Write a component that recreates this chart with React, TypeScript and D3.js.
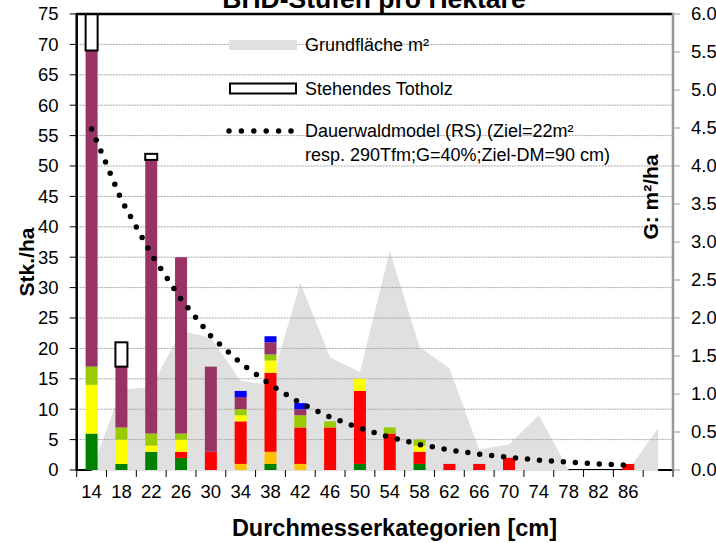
import React from "react";
import * as d3 from "d3";

// DBH classes (cm)
const CATEGORIES = [14, 18, 22, 26, 30, 34, 38, 42, 46, 50, 54, 58, 62, 66, 70, 74, 78, 82, 86, 90];
const TICK_LABELS = ["14", "18", "22", "26", "30", "34", "38", "42", "46", "50", "54", "58", "62", "66", "70", "74", "78", "82", "86", ""];

// stems per ha, stacked bottom -> top
const GREEN = [6, 1, 3, 2, 0, 0, 1, 0, 0, 1, 0, 1, 0, 0, 0, 0, 0, 0, 0, 0];
const ORANGE = [0, 0, 0, 0, 0, 1, 2, 1, 0, 0, 0, 0, 0, 0, 0, 0, 0, 0, 0, 0];
const RED = [0, 0, 0, 1, 3, 7, 13, 6, 7, 12, 6, 2, 1, 1, 2, 0, 0, 0, 1, 0];
const YELLOW = [8, 4, 1, 2, 0, 1, 2, 0, 0, 2, 0, 1, 0, 0, 0, 0, 0, 0, 0, 0];
const LIME = [3, 2, 2, 1, 0, 1, 1, 2, 1, 0, 1, 1, 0, 0, 0, 0, 0, 0, 0, 0];
const PURPLE = [52, 10, 45, 29, 14, 2, 2, 1, 0, 0, 0, 0, 0, 0, 0, 0, 0, 0, 0, 0];
const BLUE = [0, 0, 0, 0, 0, 1, 1, 1, 0, 0, 0, 0, 0, 0, 0, 0, 0, 0, 0, 0];
const TOTHOLZ = [6, 4, 1, 0, 0, 0, 0, 0, 0, 0, 0, 0, 0, 0, 0, 0, 0, 0, 0, 0];

// basal area m2/ha (right axis)
const GRUNDFLAECHE = [0, 1.06, 1.09, 1.83, 1.74, 1.17, 1.12, 2.46, 1.48, 1.29, 2.88, 1.62, 1.34, 0.27, 0.34, 0.72, 0, 0, 0, 0.55];

// target model stems per ha (14..86)
const DAUERWALD = [56.1, 44.4, 35.5, 28.1, 22.0, 17.6, 14.0, 11.0, 8.7, 6.9, 5.4, 4.2, 3.3, 2.6, 2.1, 1.6, 1.3, 1.0, 0.8];

const SERIES = [
  { name: "s1", values: GREEN, color: "#008000" },
  { name: "s2", values: ORANGE, color: "#FFC000" },
  { name: "s3", values: RED, color: "#FF0000" },
  { name: "s4", values: YELLOW, color: "#FFFF00" },
  { name: "s5", values: LIME, color: "#99CC00" },
  { name: "s6", values: PURPLE, color: "#993366" },
  { name: "s7", values: BLUE, color: "#0000FF" },
];

const LEFT_TICKS = d3.range(0, 76, 5);
const RIGHT_TICKS = d3.range(0, 6.01, 0.5);

const FONT = "'Liberation Sans', Arial, sans-serif";

export default function App() {
  const W = 716, H = 543;
  const left = 76.7, right = 673, top = 14, bottom = 470;

  const x = d3.scaleBand<number>().domain(CATEGORIES).range([left, right]).padding(0);
  const y = d3.scaleLinear().domain([0, 75]).range([bottom, top]);
  const y2 = d3.scaleLinear().domain([0, 6]).range([bottom, top]);
  const cx = (c: number) => (x(c) as number) + x.bandwidth() / 2;
  const barW = 12;

  const area = d3
    .area<number>()
    .x((_, i) => cx(CATEGORIES[i]))
    .y0(bottom + 1)
    .y1((d) => y2(d));

  const line = d3
    .line<number>()
    .x((_, i) => cx(CATEGORIES[i]))
    .y((d) => y(d));

  const stackRows = CATEGORIES.map((c, i) => {
    const row: any = { cat: c };
    SERIES.forEach((s) => (row[s.name] = s.values[i]));
    return row;
  });
  const stacked = d3.stack().keys(SERIES.map((s) => s.name))(stackRows);
  const totals = CATEGORIES.map((_, i) => d3.sum(SERIES, (s) => s.values[i]));

  return (
    <svg width={W} height={H} style={{ position: "absolute", left: 0, top: 0, display: "block" }} fontFamily={FONT}>
      <defs>
        <clipPath id="plot">
          <rect x={left} y={top} width={right - left} height={bottom - top} />
        </clipPath>
      </defs>
      <rect width={W} height={H} fill="#fff" />

      {/* bottom axis line, partly hidden by the area */}
      <line x1={left} x2={right} y1={bottom} y2={bottom} stroke="#000" strokeWidth={2} />

      {/* basal area */}
      <path d={area(GRUNDFLAECHE) as string} fill="#e0e0e0" />

      {/* gridlines */}
      {LEFT_TICKS.filter((t) => t > 0 && t < 75).map((t) => (
        <line key={t} x1={left} x2={right} y1={y(t)} y2={y(t)} stroke="#a6a6a6" strokeWidth={1} strokeDasharray="2,1" />
      ))}

      {/* stacked bars */}
      <g clipPath="url(#plot)">
        {stacked.map((layer, si) =>
          layer.map((d, i) =>
            d[1] - d[0] > 0 ? (
              <rect
                key={si + "-" + i}
                x={cx(CATEGORIES[i]) - barW / 2}
                y={y(d[1])}
                width={barW}
                height={y(d[0]) - y(d[1])}
                fill={SERIES[si].color}
              />
            ) : null,
          ),
        )}
        {TOTHOLZ.map((v, i) =>
          v > 0 ? (
            <rect
              key={"t" + i}
              x={cx(CATEGORIES[i]) - barW / 2}
              y={y(totals[i] + v)}
              width={barW}
              height={y(totals[i]) - y(totals[i] + v)}
              fill="#fff"
              stroke="#000"
              strokeWidth={2}
            />
          ) : null,
        )}
      </g>

      {/* model line */}
      <path
        d={line(DAUERWALD) as string}
        fill="none"
        stroke="#000"
        strokeWidth={5.5}
        strokeLinecap="round"
        strokeDasharray="0,12"
      />

      {/* frame / axes */}
      <line x1={left} x2={right} y1={top} y2={top} stroke="#000" strokeWidth={2.5} />
      <line x1={right} x2={right} y1={top - 1} y2={bottom + 1} stroke="#999" strokeWidth={2.5} />
      <line x1={left} x2={left} y1={top - 1} y2={bottom + 1} stroke="#000" strokeWidth={2.5} />

      {LEFT_TICKS.map((t) => (
        <g key={"l" + t}>
          <line x1={left - 7} x2={left} y1={y(t)} y2={y(t)} stroke="#000" strokeWidth={1} />
          <text x={58.5} y={y(t)} dy="0.35em" textAnchor="end" fontSize={18.5}>
            {t}
          </text>
        </g>
      ))}
      {RIGHT_TICKS.map((t) => (
        <g key={"r" + t}>
          <line x1={right} x2={right + 7} y1={y2(t)} y2={y2(t)} stroke="#999" strokeWidth={1} />
          <text x={691} y={y2(t)} dy="0.35em" fontSize={18.5}>
            {t.toFixed(1)}
          </text>
        </g>
      ))}
      {CATEGORIES.map((c, i) => (
        <g key={"x" + c}>
          <line x1={x(c) as number} x2={x(c) as number} y1={bottom} y2={bottom + 7} stroke="#000" strokeWidth={1} />
          <text x={cx(c)} y={498} textAnchor="middle" fontSize={18.5}>
            {TICK_LABELS[i]}
          </text>
        </g>
      ))}
      <line x1={right} x2={right} y1={bottom} y2={bottom + 7} stroke="#000" strokeWidth={1} />

      {/* legend */}
      <rect x={229} y={40} width={68} height={10} fill="#e0e0e0" />
      <text x={305} y={45} dy="0.35em" fontSize={18}>Grundfläche m²</text>
      <rect x={230} y={83.5} width={66} height={10} fill="#fff" stroke="#000" strokeWidth={2} />
      <text x={305} y={89} dy="0.35em" fontSize={18}>Stehendes Totholz</text>
      <line x1={229} x2={292} y1={131} y2={131} stroke="#000" strokeWidth={5.5} strokeLinecap="round" strokeDasharray="0,12.4" />
      <text x={305} y={131} dy="0.35em" fontSize={18}>Dauerwaldmodel (RS) (Ziel=22m²</text>
      <text x={305} y={155} dy="0.35em" fontSize={18}>resp. 290Tfm;G=40%;Ziel-DM=90 cm)</text>

      {/* titles */}
      <text x={374} y={8} textAnchor="middle" fontWeight="bold" fontSize={26.5}>BHD-Stufen pro Hektare</text>
      <text x={394.5} y={536} textAnchor="middle" fontWeight="bold" fontSize={23.5}>Durchmesserkategorien [cm]</text>
      <text transform="translate(34,262) rotate(-90)" textAnchor="middle" fontWeight="bold" fontSize={21}>Stk./ha</text>
      <text transform="translate(658,197) rotate(-90)" textAnchor="middle" fontWeight="bold" fontSize={21}>G: m²/ha</text>
    </svg>
  );
}
